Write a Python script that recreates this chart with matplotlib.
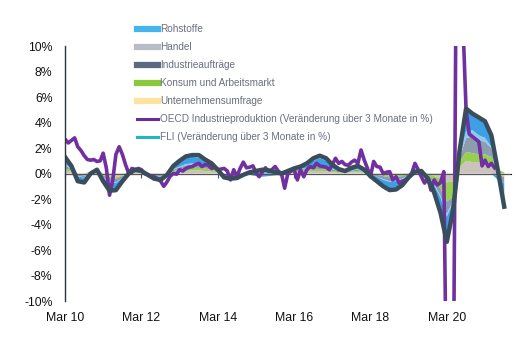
import numpy as np
import pandas as pd
import matplotlib
matplotlib.use("Agg")
import matplotlib.pyplot as plt
import matplotlib.dates as mdates
from matplotlib.lines import Line2D
from matplotlib.ticker import NullFormatter

plt.rcParams['font.family'] = ['Liberation Sans', 'DejaVu Sans']

# FLI and its components, every second month from Mar 2010
dates_bi = pd.date_range("2010-03-01", periods=70, freq="2MS")
fli = [1.3, 0.6, -0.6, -0.7, 0.0, 0.3, -0.6, -1.35, -1.3, -0.6,
       0.0, 0.3, 0.2, -0.1, -0.4, -0.5, -0.1, 0.6, 1.0, 1.35,
       1.45, 1.45, 1.1, 0.8, 0.3, -0.3, -0.4, -0.35, -0.1, 0.1,
       0.2, 0.3, 0.25, 0.1, 0.0, 0.2, 0.4, 0.55, 0.8, 1.2,
       1.4, 1.2, 0.7, 0.35, 0.2, 0.45, 0.6, 0.3, -0.2, -0.6,
       -1.0, -1.3, -1.25, -0.9, -0.3, 0.15, 0.2, -0.4, -1.5, -3.1,
       -5.35, -2.8, 1.8, 5.1, 4.7, 4.4, 4.1, 3.0, 0.3, -2.6]
handel = [0.25, 0.15, -0.05, -0.1, -0.05, 0.05, -0.1, -0.25, -0.3, -0.15,
          -0.05, 0.05, 0.05, 0.0, -0.05, -0.05, 0.0, 0.1, 0.15, 0.2,
          0.25, 0.25, 0.2, 0.15, 0.1, -0.05, -0.05, -0.05, 0.0, 0.05,
          0.1, 0.1, 0.1, 0.05, 0.0, 0.05, 0.1, 0.1, 0.15, 0.2,
          0.2, 0.2, 0.1, 0.05, 0.05, 0.1, 0.1, 0.05, 0.0, -0.05,
          -0.1, -0.15, -0.15, -0.1, 0.0, 0.05, 0.05, -0.05, -0.2, -0.4,
          -0.7, -0.6, 0.5, 1.0, 0.9, 0.9, 0.9, 0.8, 0.1, -0.3]
konsum = [0.15, 0.1, 0.0, -0.05, 0.1, 0.1, -0.05, -0.1, -0.1, -0.05,
          0.05, 0.05, 0.05, 0.0, -0.05, -0.05, 0.0, 0.1, 0.15, 0.2,
          0.2, 0.2, 0.2, 0.15, 0.05, 0.0, 0.0, 0.0, 0.0, 0.05,
          0.1, 0.1, 0.1, 0.05, 0.05, 0.05, 0.1, 0.1, 0.1, 0.15,
          0.15, 0.15, 0.1, 0.05, 0.05, 0.05, 0.1, 0.05, 0.0, -0.05,
          -0.1, -0.15, -0.1, -0.1, 0.0, 0.05, 0.05, -0.05, -0.3, -0.8,
          -1.5, -1.2, 0.4, 0.7, 0.7, 0.6, 0.6, 0.5, 0.2, 0.1]
industrie = [0.25, 0.1, -0.15, -0.15, 0.0, 0.05, -0.15, -0.3, -0.3, -0.15,
             0.0, 0.05, 0.05, -0.05, -0.1, -0.15, -0.05, 0.1, 0.2, 0.25,
             0.25, 0.25, 0.2, 0.15, 0.05, -0.05, -0.1, -0.1, -0.05, 0.05,
             0.05, 0.1, 0.05, 0.05, 0.0, 0.05, 0.1, 0.1, 0.15, 0.2,
             0.25, 0.2, 0.15, 0.1, 0.05, 0.1, 0.1, 0.05, -0.05, -0.15,
             -0.25, -0.3, -0.3, -0.2, -0.1, 0.0, 0.05, -0.1, -0.3, -0.6,
             -1.0, -0.3, 0.3, 1.1, 1.3, 1.1, 1.0, 0.7, -0.2, -0.5]
umfrage = [0.1, 0.05, -0.05, 0.0, 0.0, 0.0, -0.05, -0.05, -0.05, 0.0,
           0.0, 0.0, 0.0, 0.0, 0.0, 0.0, 0.0, 0.05, 0.05, 0.1,
           0.1, 0.1, 0.05, 0.05, 0.0, 0.0, 0.0, 0.0, 0.0, 0.0,
           0.05, 0.05, 0.05, 0.0, 0.0, 0.0, 0.0, 0.05, 0.05, 0.05,
           0.1, 0.05, 0.05, 0.0, 0.0, 0.0, 0.05, 0.0, 0.0, 0.0,
           -0.05, -0.05, -0.05, -0.05, 0.0, 0.0, 0.0, 0.0, -0.1, -0.1,
           -0.2, -0.1, 0.1, 0.5, 0.5, 0.4, 0.3, 0.1, 0.0, 0.0]
rohstoffe = [0.35, 0.15, -0.3, -0.35, 0.05, 0.1, -0.25, -0.5, -0.45, -0.2,
             0.0, 0.1, 0.05, -0.05, -0.15, -0.2, -0.05, 0.2, 0.35, 0.45,
             0.5, 0.45, 0.3, 0.2, 0.05, -0.15, -0.2, -0.15, -0.05, -0.1,
             -0.2, -0.25, -0.2, -0.15, -0.1, 0.05, 0.1, 0.15, 0.25, 0.4,
             0.5, 0.4, 0.25, 0.1, 0.05, 0.15, 0.2, 0.1, -0.1, -0.25,
             -0.4, -0.5, -0.5, -0.35, -0.15, 0.05, 0.05, -0.15, -0.5, -1.0,
             -1.6, -0.5, 0.4, 1.4, 1.45, 1.3, 1.1, 0.6, -0.3, -1.0]

# OECD industrial production, monthly from Mar 2010
dates_m = pd.date_range("2010-03-01", periods=136, freq="MS")
oecd = [2.7, 2.4, 2.6, 2.8, 2.1, 1.8, 1.4, 1.1, 1.05, 1.1,
        0.95, 1.0, 1.6, 0.4, -1.7, -0.5, 1.5, 2.1, 1.5, 0.7,
        0.0, 0.4, 0.3, 0.4, 0.3, 0.0, -0.1, -0.2, -0.25, -0.4,
        -0.6, -1.0, -0.65, -0.2, 0.0, -0.05, 0.3, 0.2, 0.4, 0.5,
        0.55, 0.7, 0.8, 0.55, 0.7, 0.65, 0.4, 0.5, 0.3, 0.35,
        0.4, 0.2, -0.5, 0.3, -0.25, 0.4, 0.9, 0.45, 0.5, 0.6,
        0.1, -0.25, 0.1, 0.45, 0.15, 0.3, 0.55, 0.2, 0.0, -1.15,
        0.0, 0.2, 0.3, -0.5, 0.3, -0.25, 0.3, 0.55, 0.45, 0.8,
        0.6, 0.55, 0.5, 0.3, 0.7, 1.2, 0.8, 0.95, 0.7, 0.65,
        0.9, 1.05, 0.8, 1.85, 1.05, 0.4, -0.25, 0.95, 0.55, 0.5,
        0.0, 0.1, 0.15, -0.5, -0.25, -0.75, -0.6, -0.5, -0.3, 0.05,
        0.8, 0.3, -0.25, -0.75, -0.35, -1.3, -0.5, -0.9, -0.7, 0.15,
        -20, -25, -20, 20, 25, 12, 5.0, 3.1, 2.9, 2.7,
        2.5, 0.6, 1.05, 0.55, 0.8, 0.45]

labels = ["Rohstoffe", "Handel", "Industrieaufträge", "Konsum und Arbeitsmarkt",
          "Unternehmensumfrage", "OECD Industrieproduktion (Veränderung über 3 Monate in %)",
          "FLI (Veränderung über 3 Monate in %)"]

comps = [handel, konsum, industrie, umfrage, rohstoffe]
area_cols = ["#cbc3bb", "#96d04c", "#8d9db0", "#8ccaf2", "#3d9fe4"]
legend_cols = ["#45b5ee", "#b8bcc4", "#5c6a80", "#8cc83c", "#fde3a0", "#6a2c9c", "#20b8bc"]

fig = plt.figure(figsize=(5.23, 3.44), dpi=100)
ax = fig.add_axes([0.1243, 0.125, 0.852, 0.741])

pos = [np.clip(c, 0, None) for c in comps]
neg = [np.clip(c, None, 0) for c in comps]
ax.stackplot(dates_bi, *pos, colors=area_cols, linewidth=0)
ax.stackplot(dates_bi, *neg, colors=area_cols, linewidth=0)

ax.axhline(0, color="#555555", lw=0.8)
ax.plot(dates_m, oecd, color="#7030a0", lw=2.6)
ax.plot(dates_bi, fli, color="#3a4d5c", lw=3.2)

ax.set_ylim(-10, 10)
ax.set_xlim(pd.Timestamp("2010-03-01"), pd.Timestamp("2021-11-01"))
ax.set_yticks(np.arange(-10, 11, 2))
ax.set_yticklabels([f"{v}%" for v in range(-10, 11, 2)])
ax.xaxis.set_major_locator(mdates.YearLocator(base=2, month=3))
ax.xaxis.set_major_formatter(mdates.DateFormatter("Mar %y"))
ax.tick_params(axis="both", length=0, labelsize=8.8, colors="#111111")
ax.tick_params(axis="y", pad=9)
ax.tick_params(axis="x", pad=8)
for s in ["top", "right", "bottom"]:
    ax.spines[s].set_visible(False)
ax.spines["left"].set_color("#2b3440")
ax.spines["left"].set_linewidth(1.0)

sec = ax.secondary_xaxis(0.5)
sec.xaxis.set_major_locator(mdates.YearLocator(base=2, month=3))
sec.xaxis.set_major_formatter(NullFormatter())
sec.tick_params(direction="in", length=3, color="#555555")
sec.spines["bottom"].set_visible(False)

handles = [Line2D([], [], color=c, lw=4.5) for c in legend_cols[:5]]
handles += [Line2D([], [], color=c, lw=2.2) for c in legend_cols[5:]]
leg = fig.legend(handles, labels, loc="upper left", bbox_to_anchor=(137 / 523, 1 - 24 / 344),
                 frameon=False, fontsize=7.2, handlelength=2.1, handletextpad=0.25,
                 labelspacing=0.8, borderpad=0, borderaxespad=0)
for t in leg.get_texts():
    t.set_color("#6a6f7e")

fig.savefig("out.png", dpi=100)
